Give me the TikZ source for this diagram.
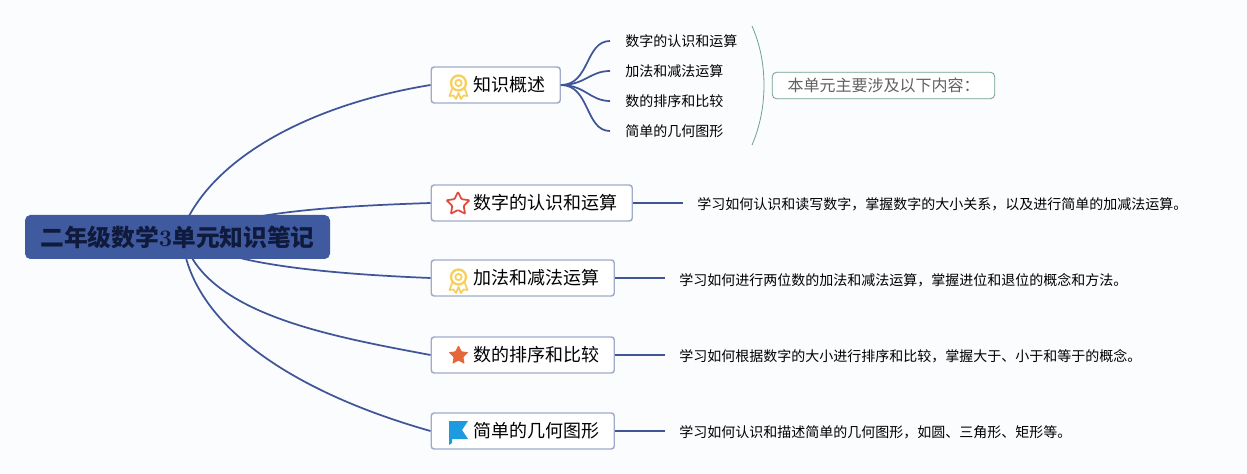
\documentclass[tikz,border=0pt]{standalone}
\usepackage{fontspec}
\setmainfont{Noto Sans CJK SC}
\usetikzlibrary{shapes.geometric}
\definecolor{pagebg}{HTML}{FBFCFE}
\definecolor{mapblue}{HTML}{3F5597}
\definecolor{rootfill}{HTML}{3F5A9E}
\definecolor{boxedge}{HTML}{A0ABCC}
\definecolor{rootink}{HTML}{0F1A3C}
\definecolor{notegreen}{HTML}{6FA08E}
\definecolor{medalgold}{HTML}{F8CF5A}
\definecolor{starred}{HTML}{E04B3C}
\definecolor{starorange}{HTML}{E5683A}
\definecolor{flagblue}{HTML}{1E9BE0}
\tikzset{
    branch/.style={draw=mapblue, line width=1.3pt},
    rootbox/.style={draw=none, fill=rootfill, rounded corners=4pt, text=rootink, font=\fontsize{17.8}{20}\selectfont\bfseries, anchor=center, minimum width=228.75pt, minimum height=33pt, inner sep=0pt},
    topicbox/.style={draw=boxedge, fill=white, line width=1.1pt, rounded corners=2.2pt, anchor=west, minimum height=27pt, inner xsep=11.25pt, inner ysep=0pt, font=\fontsize{13.5}{15}\selectfont, execute at begin node={\hspace*{20.25pt}}},
    leaftext/.style={anchor=west, inner xsep=11.25pt, inner ysep=0pt, font=\fontsize{10.5}{12}\selectfont},
    notetext/.style={anchor=west, inner xsep=10.5pt, inner ysep=0pt, font=\fontsize{10.5}{12}\selectfont},
    medalicon/.pic={
        \draw[medalgold, line width=1.3pt, line join=round, fill=white] (-6,3) -- (-9,11) -- (-5,10.5) -- (-2.5,14) -- (0,8) -- (2.5,14) -- (5,10.5) -- (9,11) -- (6,3);
        \draw[medalgold, line width=1.7pt, fill=white] (0,-2) circle (7.5);
        \draw[medalgold, line width=1.3pt] (0,-2) circle (3.2);
    }
}
\begin{document}
\begin{tikzpicture}[x=0.75pt, y=-0.75pt]
    \fill[pagebg] (0,0) rectangle (1247,474);
    % Branches
    \coordinate (rootA) at (189,216);
    \coordinate (rootB) at (262,216);
    \coordinate (rootC) at (240,258);
    \coordinate (rootD) at (192,258);
    \coordinate (rootE) at (186,258);
    % Topics
    \node[topicbox] (overview) at (430.5,85) {知识概述};
    \node[topicbox] (digits) at (430.5,203) {数字的认识和运算};
    \node[topicbox] (addsub) at (430.5,278) {加法和减法运算};
    \node[topicbox] (order) at (430.5,355) {数的排序和比较};
    \node[topicbox] (shapes) at (430.5,431) {简单的几何图形};
    \draw[branch] (rootA) .. controls (225,150) and (320,103) .. (overview.west);
    \draw[branch] (rootB) .. controls (310,208) and (370,205) .. (digits.west);
    \draw[branch] (rootC) .. controls (285,269) and (355,275) .. (addsub.west);
    \draw[branch] (rootD) .. controls (228,318) and (340,338) .. (order.west);
    \draw[branch] (rootE) .. controls (208,338) and (310,397) .. (shapes.west);
    \node[rootbox] (root) at (177.5,237) {二年级数学{\fontspec{Latin Modern Roman}3}单元知识笔记};
    % Leaves
    \node[leaftext] (leafA) at (610,41) {数字的认识和运算};
    \node[leaftext] (leafB) at (610,71) {加法和减法运算};
    \node[leaftext] (leafC) at (610,101) {数的排序和比较};
    \node[leaftext] (leafD) at (610,131) {简单的几何图形};
    \draw[branch] (overview.east) .. controls (590,85) and (585,41) .. (leafA.west);
    \draw[branch] (overview.east) .. controls (585,85) and (590,71) .. (leafB.west);
    \draw[branch] (overview.east) .. controls (585,85) and (590,101) .. (leafC.west);
    \draw[branch] (overview.east) .. controls (590,85) and (585,131) .. (leafD.west);
    % Summary
    \coordinate (braceTop) at (752,26);
    \coordinate (braceEnd) at (752,145);
    \draw[notegreen, line width=0.6pt] (braceTop) .. controls (768,62) and (768,108) .. (braceEnd);
    \node[draw=notegreen, fill=white, line width=0.6pt, rounded corners=3.5pt, anchor=center, minimum width=167pt, minimum height=20pt, inner sep=0pt, text=black!62, font=\fontsize{12}{13}\selectfont] (summary) at (883.5,85.5) {本单元主要涉及以下内容：};
    % Notes
    \node[notetext] (noteA) at (683,204) {学习如何认识和读写数字，掌握数字的大小关系，以及进行简单的加减法运算。};
    \node[notetext] (noteB) at (665,280) {学习如何进行两位数的加法和减法运算，掌握进位和退位的概念和方法。};
    \node[notetext] (noteC) at (665,356) {学习如何根据数字的大小进行排序和比较，掌握大于、小于和等于的概念。};
    \node[notetext] (noteD) at (665,432) {学习如何认识和描述简单的几何图形，如圆、三角形、矩形等。};
    \draw[branch] (digits.east) -- (noteA.west |- digits.east);
    \draw[branch] (addsub.east) -- (noteB.west |- addsub.east);
    \draw[branch] (order.east) -- (noteC.west |- order.east);
    \draw[branch] (shapes.east) -- (noteD.west |- shapes.east);
    % Icons
    \pic at (458.5,85) {medalicon};
    \pic at (458.5,279) {medalicon};
    \node[star, star points=5, star point ratio=2, draw=starred, fill=white, line width=1.3pt, rounded corners=0.6pt, minimum size=18pt, inner sep=0pt] (starRed) at (458,204) {};
    \node[star, star points=5, star point ratio=2, fill=starorange, rounded corners=0.5pt, minimum size=15.5pt, inner sep=0pt] (starOrange) at (458.5,355.5) {};
    \fill[flagblue] (449,421) -- (468,421) -- (462,430) -- (468,439) -- (452,439) -- (452,443) -- (449,445) -- cycle;
\end{tikzpicture}
\end{document}
